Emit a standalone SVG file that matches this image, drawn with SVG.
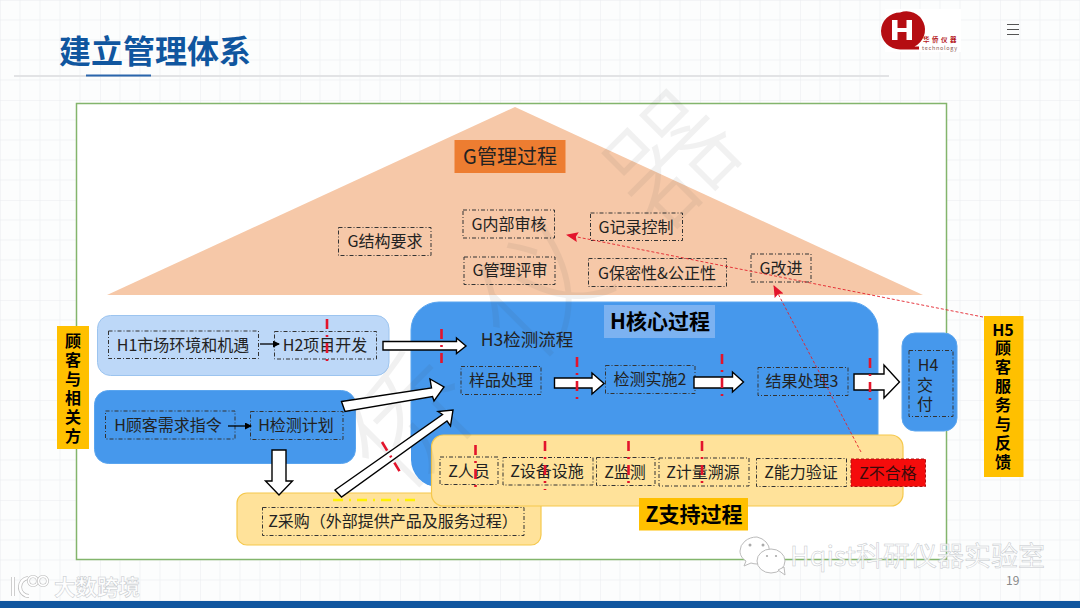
<svg xmlns="http://www.w3.org/2000/svg" width="1080" height="608" viewBox="0 0 1080 608">
<style>
text{font-family:"Noto Sans CJK SC","Noto Sans",sans-serif;fill:#222}
.t{font-size:16px;text-anchor:middle}
.b{font-weight:700;fill:#000;text-anchor:middle}
.v{font-size:16px;writing-mode:vertical-rl;text-orientation:upright;letter-spacing:3px}
.d{fill:none;stroke:#333;stroke-width:1;stroke-dasharray:4 2 1 2}
.blue{fill:#4698ec;stroke:#5aa5ef;stroke-width:1}
.yel{fill:#ffe29a;stroke:#f5c84c;stroke-width:1.2}
.gold{fill:#ffc000}
.wa{fill:#fff;stroke:#000;stroke-width:1.4;stroke-linejoin:miter}
.rd{fill:none;stroke:#e3142c;stroke-width:2.6;stroke-dasharray:10 6 2 6}
.rl{fill:none;stroke:#e3242c;stroke-width:.9;stroke-dasharray:3 2}
.wm{fill:#fff;fill-opacity:.8;stroke:#c4c8cc;stroke-width:.5}
</style>
<defs>
<pattern id="grid" width="100" height="100" patternUnits="userSpaceOnUse">
<path d="M20 0V100M40 0V100M60 0V100M80 0V100M0 20H100M0 40H100M0 60H100M0 80H100" fill="none" stroke="#f1f3f5" stroke-width="1"/>
<path d="M0 0V100M0 0H100" fill="none" stroke="#e9ecef" stroke-width="1"/>
</pattern>
<marker id="ar" markerUnits="userSpaceOnUse" markerWidth="14" markerHeight="12" refX="11" refY="5" orient="auto"><path d="M0 0L12 5L0 10L2 5Z" fill="#e3142c"/></marker>
<marker id="ak" markerUnits="userSpaceOnUse" markerWidth="8" markerHeight="8" refX="6" refY="3.5" orient="auto"><path d="M0 0L7 3.5L0 7Z" fill="#000"/></marker>
</defs>
<rect width="1080" height="608" fill="#fcfdfd"/>
<rect width="1080" height="608" fill="url(#grid)"/>
<g id="header">
<text x="59" y="63" style="font-size:32px;font-weight:700;fill:#10569f">建立管理体系</text>
<rect x="14" y="75" width="875" height="2" fill="#e2e3e5"/>
<rect x="86" y="74.500" width="65" height="2" fill="#2a66ad"/>
</g>
<g id="logo">
<rect x="885" y="9" width="76" height="43" fill="#fff"/>
<path d="M900 12.500a19 18.500 0 1 0 0 37H919V46.500H914.500A18.500 18.500 0 0 0 900 12.500Z" fill="#b50d12"/>
<path d="M892 20h5.500v8h9v-8h5.500v20h-5.500v-8h-9v8h-5.500Z" fill="#fff"/>
<text x="923" y="42" style="font-size:6.500px;font-weight:700;fill:#b5181c;letter-spacing:2.500px">华侨仪器</text>
<text x="922" y="50" style="font-size:5.500px;fill:#8a5a50;letter-spacing:.7px">technology</text>
</g>
<path id="menu" d="M1007 24.500H1019M1007 29.500H1019M1007 34.500H1019" stroke="#555" stroke-width="1.100" fill="none"/>
<rect id="frame" x="76.500" y="103.500" width="870" height="456" fill="#fff" stroke="#83b56c" stroke-width="1.500"/>

<g id="G-triangle"><path d="M515 107L923 295H107Z" fill="#f6c8a8"/></g>
<g id="H-core"><path d="M439 302H850a28 28 0 0 1 28 28V470H439a28 28 0 0 1-28-28V330a28 28 0 0 1 28-28Z" class="blue"/><path d="M411 420V460a28 28 0 0 0 25 27L460 470V420Z" fill="#4698ec"/></g>
<g id="H1-panel"><rect x="97.500" y="315.500" width="291.500" height="60" rx="13" fill="#bdd8f8" stroke="#9cc4ef"/></g>
<g id="H-need-panel"><rect x="94.500" y="390.500" width="261" height="73" rx="14" class="blue"/></g>
<g id="H4"><rect x="902" y="333" width="55" height="98" rx="13" class="blue"/><rect x="909" y="350.500" width="44" height="66" class="d"/>
<text class="t" x="928" y="371">H4</text><text class="v" x="925" y="377">交付</text></g>
<g id="Z-purchase"><rect x="237" y="493" width="304" height="52" rx="10" class="yel"/><rect x="262.500" y="507.500" width="261.500" height="28" class="d"/><text class="t" x="393" y="527">Z采购（外部提供产品及服务过程）</text></g>
<g id="Z-panel"><rect x="431.500" y="435" width="471.500" height="71" rx="12" class="yel"/></g>

<g id="watermark" style="opacity:.07" transform="rotate(-45 530 300)">
<text x="575" y="345" style="font-size:125px;font-weight:300;text-anchor:middle;fill:#444;letter-spacing:60px">侨仪器</text>
</g>

<g id="G-title"><rect x="454.500" y="140" width="111" height="33" fill="#ed7d31"/><text class="t" x="510" y="164" style="font-size:20px">G管理过程</text></g>
<g id="G-structure"><rect x="338.500" y="227.500" width="92.500" height="28" class="d"/><text class="t" x="385" y="247">G结构要求</text></g>
<g id="G-audit"><rect x="463" y="210" width="91.500" height="28" class="d"/><text class="t" x="509" y="230">G内部审核</text></g>
<g id="G-review"><rect x="464" y="257" width="91" height="27.500" class="d"/><text class="t" x="510" y="276">G管理评审</text></g>
<g id="G-record"><rect x="590.500" y="213" width="92" height="27.500" class="d"/><text class="t" x="636" y="233">G记录控制</text></g>
<g id="G-confidential"><rect x="588.500" y="258.500" width="138" height="28" class="d"/><text class="t" x="657" y="279">G保密性&amp;公正性</text></g>
<g id="G-improve"><rect x="751" y="254" width="60" height="28" class="d"/><text class="t" x="781" y="274">G改进</text></g>

<g id="H-core-title"><rect x="604" y="305" width="111" height="33" fill="#7cb2f1"/><text class="b" x="660" y="329" style="font-size:21px">H核心过程</text></g>
<g id="H3"><text class="t" x="527" y="346" style="font-size:17.500px">H3检测流程</text></g>
<g id="sample"><rect x="461" y="366.500" width="80" height="28" class="d"/><text class="t" x="501" y="386">样品处理</text></g>
<g id="testing"><rect x="605.500" y="365.500" width="89.500" height="28" class="d"/><text class="t" x="650" y="385">检测实施2</text></g>
<g id="result"><rect x="758" y="367.500" width="90" height="28" class="d"/><text class="t" x="802" y="387">结果处理3</text></g>
<g id="H1"><rect x="108.500" y="331" width="150" height="27.500" class="d"/><text class="t" x="183" y="351">H1市场环境和机遇</text></g>
<g id="H2"><rect x="274.500" y="331.500" width="102" height="27.500" class="d"/><text class="t" x="325" y="351">H2项目开发</text></g>
<g id="H-need"><rect x="105.500" y="411" width="129.500" height="28" class="d"/><text class="t" x="168" y="431">H顾客需求指令</text></g>
<g id="H-plan"><rect x="250.500" y="411.500" width="92.500" height="28" class="d"/><text class="t" x="296" y="431">H检测计划</text></g>

<g id="customer"><rect x="57" y="326" width="32" height="123" class="gold"/>
<text class="v" x="73" y="333" style="font-weight:700;fill:#000">顾客与相关方</text></g>
<g id="H5"><rect x="984" y="316" width="39.500" height="161" class="gold"/>
<text class="b" x="1003" y="336" style="font-size:16px">H5</text><text class="v" x="1003" y="340" style="font-weight:700;fill:#000">顾客服务与反馈</text></g>

<g id="Z-staff"><rect x="440" y="457" width="58" height="27.500" class="d"/><text class="t" x="469" y="477">Z人员</text></g>
<g id="Z-equipment"><rect x="503" y="457.500" width="90" height="27.500" class="d"/><text class="t" x="547" y="477">Z设备设施</text></g>
<g id="Z-monitor"><rect x="596.500" y="457.500" width="58.500" height="28" class="d"/><text class="t" x="625" y="478">Z监测</text></g>
<g id="Z-trace"><rect x="659" y="458" width="90" height="28" class="d"/><text class="t" x="703" y="478">Z计量溯源</text></g>
<g id="Z-ability"><rect x="756.500" y="458.500" width="90" height="28" class="d"/><text class="t" x="801" y="478">Z能力验证</text></g>
<g id="Z-nonconform"><rect x="851" y="459" width="74.500" height="27.500" fill="#f50c0c" stroke="#b01010" stroke-width="1" stroke-dasharray="3 2"/><text class="t" x="888" y="479" style="fill:#3a0a0a">Z不合格</text></g>
<g id="Z-title"><rect x="639" y="498" width="109" height="32.500" class="gold"/><text class="b" x="694" y="522" style="font-size:21px">Z支持过程</text></g>

<g id="connectors">
<path d="M260 344H279" stroke="#000" stroke-width="1.300" marker-end="url(#ak)" fill="none"/>
<path d="M228 426H251" stroke="#000" stroke-width="1.300" marker-end="url(#ak)" fill="none"/>
<path class="wa" d="M383 341.500H456.500V338L466 346L456.500 353.500V350H383Z"/>
<path class="wa" d="M272 450H286V481H292.500L279 495L265.500 481H272Z"/>
<path class="wa" d="M341.500 401.500L431.500 388L430 379L444 387L434 401L432.500 396.500L345 411.500Z"/>
<path class="wa" d="M335 490L442.500 414.500L438 411.500L453 410L450.500 426L447 421L341.500 497Z"/>
<path class="wa" d="M554.500 378H592V373L604 383.500L592 394V388H554.500Z"/>
<path class="wa" d="M694 377H732.500V372L743.500 382L732.500 392V388H694Z"/>
<path class="wa" d="M854 374H884V365L899.500 382L884 398V390H854Z"/>
<path class="rl" d="M983 317L567 235" marker-end="url(#ar)"/>
<path class="rl" d="M861 452L774 286" marker-end="url(#ar)"/>
<path class="rd" d="M327 319V367"/><path class="rd" d="M441.500 329V363"/><path class="rd" d="M577 357V404"/><path class="rd" d="M722 354V401"/><path class="rd" d="M870 358V405"/>
<path class="rd" d="M475.500 445V492"/><path class="rd" d="M545 441V490"/><path class="rd" d="M628.500 441V488"/><path class="rd" d="M702 441V488"/>
<path class="rd" d="M382 442L400 472"/>
<path d="M333 500H421" stroke="#fff200" stroke-width="2.500" stroke-dasharray="10 6 2 6" fill="none"/>
</g>

<text id="page" x="1006" y="585" style="font-size:12px;fill:#888">19</text>
<rect id="footer" y="601" width="1080" height="7" fill="#10569f"/>
<g id="wm-left" fill="none">
<path d="M13 577V596" stroke="#bbb" stroke-width="4"/><path d="M13 577V596" stroke="#fff" stroke-width="2.600"/>
<path d="M28 578a9 9 0 0 0-8 9a9 9 0 0 0 9 9" stroke="#bbb" stroke-width="4"/><path d="M28 578a9 9 0 0 0-8 9a9 9 0 0 0 9 9" stroke="#fff" stroke-width="2.600"/>
<circle cx="33" cy="581" r="4.500" stroke="#bbb" stroke-width="3"/><circle cx="33" cy="581" r="4.500" stroke="#fff" stroke-width="1.800"/>
<circle cx="43" cy="581" r="4.500" stroke="#bbb" stroke-width="3"/><circle cx="43" cy="581" r="4.500" stroke="#fff" stroke-width="1.800"/>
<text class="wm" x="54" y="595" style="font-size:21.500px;font-weight:700">大数跨境</text>
</g>
<g id="wm-wechat">
<path d="M757 537a17 14 0 0 0-17 14c0 5 3 8 6 10l-2 5 7-3a20 20 0 0 0 6 1a17 14 0 0 0 0-27Z" fill="#fff" stroke="#bbb"/>
<ellipse cx="771" cy="561" rx="14" ry="12" fill="#fff" stroke="#bbb"/><path d="M778 570l7 5-1-8Z" fill="#fff" stroke="#bbb"/>
<circle cx="750" cy="545" r="1.500" fill="#aaa"/><circle cx="763" cy="545" r="1.500" fill="#aaa"/><circle cx="767" cy="556" r="1.100" fill="#aaa"/><circle cx="776" cy="556" r="1.100" fill="#aaa"/>
<text class="wm" x="790" y="566" style="font-size:27px">Hqist科研仪器实验室</text>
</g>
</svg>
